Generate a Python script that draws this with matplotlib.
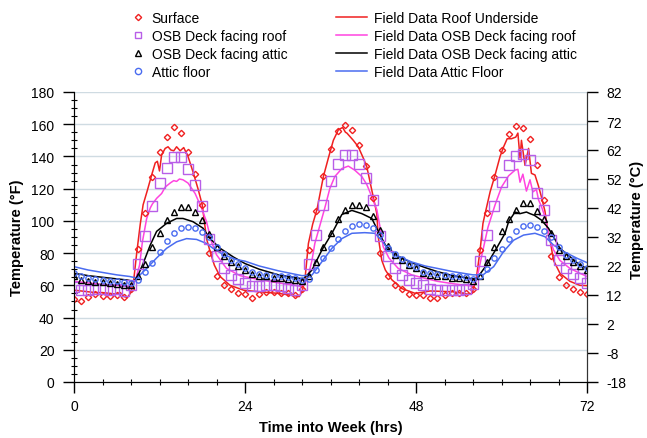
import numpy as np
import matplotlib
matplotlib.use("Agg")
import matplotlib.pyplot as plt
from matplotlib.lines import Line2D
from matplotlib.ticker import MultipleLocator

plt.rcParams['font.family'] = ['Liberation Sans', 'DejaVu Sans']
plt.rcParams['axes.unicode_minus'] = False

# hourly simulation points (deg F)
hours = list(range(0, 73))
surface = [51.5, 50.5, 52.5, 54.5, 53.5, 53.5, 54, 53, 58, 82.5, 105, 127.5, 142.5, 152, 158.5, 154.5,
           143, 129, 110, 80, 65.5, 60.5, 57.5, 55.5,
           54.4, 52, 54.5, 56, 56, 55.5, 55, 54, 58, 82, 106, 128, 144.5, 156, 159.5, 156.5,
           147, 134, 114.5, 80, 66, 60, 57.5, 54.5,
           54, 54, 52, 52, 54, 55, 55, 55, 58, 82, 105, 127.5, 144, 154, 159, 157.5,
           151, 135, 113, 78, 65, 60, 58, 56, 54.5]
osb_roof = [59, 57, 57, 58, 57.5, 57, 57.5, 56.5, 60, 73, 90.5, 109, 123.5, 133, 139.5, 139.5,
            132, 122.5, 109, 89, 78, 70.5, 66.5, 64,
            61.5, 59.5, 59.5, 60, 60, 59.5, 58.5, 57, 60, 73, 91.5, 110, 124.5, 135.5, 141, 141,
            135.5, 126.5, 113, 90.5, 78, 70.5, 66.5, 63.5,
            61.5, 60, 58, 57, 57, 57, 57, 57.5, 61, 75, 91, 109, 124, 134.5, 140.5, 141.5,
            138, 117.5, 107, 88, 76, 71, 67, 64.5, 61.5]
osb_attic = [66, 63.5, 62.5, 62.3, 62, 61.5, 61, 60.5, 60.5, 65.5, 73.5, 83.5, 92.5, 100.5, 105.5, 108.5,
             108.5, 105.5, 100.5, 92, 84, 78, 74.5, 72,
             69.5, 67, 66, 65.5, 64.7, 64.3, 63.7, 63.3, 62.5, 65.5, 74.5, 84, 92.5, 101, 106.5, 110,
             110, 108.5, 103, 94.5, 84.5, 79, 75.5, 72.5,
             70.5, 67.5, 66.5, 66, 65.5, 64.7, 64.3, 63.7, 62.5, 66, 74.5, 84, 93.5, 101, 107, 111,
             111, 106, 101, 92.5, 82, 78, 74.7, 72, 69.5]
attic_floor = [67.5, 65.5, 64.5, 64, 63.5, 63, 62.5, 62, 61.5, 63.5, 68.5, 74, 81, 87.5, 92.5, 95.5,
               96, 95.5, 93, 90, 84, 79.5, 76, 73.5,
               71, 68, 67, 66.5, 66, 65.5, 65, 64.5, 63.5, 64, 69.5, 77, 83, 88.5, 93.5, 97,
               98, 97.5, 95.5, 91, 83, 79.5, 76.5, 73.5,
               71.5, 68.5, 67.5, 67, 66.5, 66, 65.5, 65, 64, 66, 70, 77, 82.5, 88.5, 94, 97,
               97.5, 96.5, 94, 90, 83.5, 79, 76, 73, 70.5]

# field data (time in hrs, deg F)
fr_t = [0, 1, 2, 3, 4, 5, 6, 6.5, 7, 7.5, 7.9, 8.3, 8.8, 9.3, 9.7, 10.3, 10.9, 11.4, 11.7, 12.0, 12.3,
        12.8, 13.2, 13.6, 14.0, 14.4, 14.9, 15.4, 16, 16.7, 17.4, 18, 18.6, 19.1, 19.7, 20.5, 21.9, 23.8,
        26, 28.7, 31, 31.6, 32, 32.4, 32.9, 33.5, 34.1, 35, 35.7, 36.4, 37.1, 37.7, 38.1, 38.3, 38.7,
        39.2, 39.9, 40.6, 41.1, 41.8, 42.5, 42.7, 43.2, 43.7, 44.6, 46, 47.9,
        50, 53.2, 55.3, 55.9, 56.5, 57, 57.4, 57.7, 58.4, 59.1, 59.8, 60.3, 60.8, 61.4, 62.0, 62.3,
        62.6, 62.8, 63.3, 63.8, 64.2, 64.7, 65.2, 65.6, 66.1, 66.5, 66.9, 67.3, 68.2, 69.6, 71, 72]
fr_v = [57, 56.5, 56, 55.5, 55.5, 55, 54.5, 55.5, 53, 52.5, 55, 60, 80, 98, 110, 119, 128.5, 136, 137, 131, 141,
        145, 146, 144, 143.5, 146, 143.5, 145.5, 140, 130.5, 120, 110, 89, 81, 72.5, 65.5, 60, 57,
        56, 55, 53.5, 53, 56, 63, 86, 98, 107, 127.5, 139, 150, 156.5, 158, 155, 154.5, 152.5,
        150, 146, 139, 133.5, 119, 104.5, 90, 75.5, 69.5, 63.5, 58, 55,
        56.5, 56, 54.5, 55, 65.5, 82, 98.5, 104.5, 118, 128.5, 140, 146, 151, 151, 152, 154.5,
        139, 150, 134.5, 145, 129.5, 128.5, 121.5, 115, 106, 93.5, 86, 75.5, 67.5, 62.5, 60, 59.8]

fm_t = [0, 2, 4, 6, 7.6, 8.2, 8.6, 9.2, 9.6, 10.2, 10.7, 11.0, 11.6, 12.3, 12.8, 13.5, 14.0, 14.4, 14.8,
        15.3, 16, 17, 17.9, 18.6, 19.3, 20, 21.4, 23.3,
        26, 28.7, 31.7, 32.2, 32.5, 32.9, 33.4, 33.8, 34.5, 35.2, 35.9, 36.6, 37.6, 38.5, 39.4, 40.4,
        41.1, 41.8, 42.5, 43, 43.4, 44.2, 45.5, 47.4, 49.3,
        51, 53.2, 56, 56.5, 57.2, 57.7, 58.1, 59.1, 60, 61, 61.9, 62.3, 62.6, 63, 63.5, 64, 64.4, 64.9,
        65.2, 65.6, 66.1, 66.8, 67.3, 68.2, 69.6, 71, 72]
fm_v = [62.5, 61.5, 60.5, 60, 59.5, 60.5, 63, 72.5, 87, 101.5, 108, 110.5, 114, 117, 121, 123.5, 125, 124.5, 126,
        125.5, 123.5, 117, 108, 99.5, 87, 79, 70.5, 66,
        63.5, 61.5, 59.5, 60, 62, 66.5, 75.5, 86, 97, 108, 120, 127.5, 132.5, 134, 131.5, 127.5,
        122.5, 115, 107, 95, 84, 77, 70.5, 66.5, 64.3,
        62.5, 61, 59.5, 63.3, 77.8, 88, 96, 110, 121, 128, 131.5, 132, 124, 129, 118.5, 125.5, 118, 119.5,
        113, 109, 102.5, 88, 82, 75.5, 70.5, 67.5, 65.5]

fk_t = [0, 2, 4, 6, 7.5, 8.3, 8.8, 9.7, 10.7, 11.6, 13, 14.4, 15.3, 16.7, 18.1, 19.1, 20.5, 22.4, 24,
        26, 28.7, 31, 32.2, 33.4, 34.8, 36.2, 37.6, 39, 40.4, 41.8, 42.7, 43.7, 45.1, 47.4, 49.3,
        51, 53.2, 56, 56.5, 57.9, 59.3, 60.5, 61, 61.9, 62.6, 63.5, 64, 64.6, 65.6, 66.6, 67.3, 68.2,
        69.6, 71, 72]
fk_v = [67.5, 66, 65, 64, 63.3, 62.5, 64.3, 73.5, 85, 93.5, 98.5, 101.5, 101.5, 99.5, 95.5, 89, 83, 77.5, 73.5,
        70, 66.5, 64.8, 64, 69.5, 82, 92.3, 104, 106.5, 104.5, 101.5, 93.5, 85, 79, 74, 71,
        68.5, 66, 64, 64, 72.6, 83, 92.3, 99.6, 105.5, 104.5, 105.5, 104.5, 103.5, 100.5, 95.4, 90.2, 83,
        77.8, 72.6, 70.5]

fb_t = [0, 2, 4, 6, 7.8, 8.8, 10.2, 11.6, 13, 14.4, 15.8, 17.2, 18.6, 19.5, 21, 22.8, 24,
        26, 28.7, 32, 33.4, 34.8, 36.2, 37.6, 39, 40.8, 42.2, 43.2, 44.1, 45.5, 47.4, 49.3,
        51, 53.2, 56, 57.4, 58.9, 60.3, 61.7, 63.1, 64.7, 66.1, 67.3, 68.7, 70.6, 72]
fb_v = [71.6, 69.5, 68, 66.5, 65.5, 64.5, 70.5, 77, 83, 87, 89, 88.5, 86, 83, 79, 76, 75,
        72, 69, 66, 66.4, 74.7, 83, 89, 92.3, 92.7, 92.3, 88, 82, 78, 74.5, 72,
        70.5, 68.5, 66.5, 66.5, 71.6, 81, 88, 91.2, 92.3, 90.2, 85, 81, 76.8, 74.1]

red = '#f02020'
magenta = '#ff44e0'
violet = '#b85ee8'
blue = '#4a6cf0'

fig = plt.figure(figsize=(6.47, 4.39), dpi=100)
ax = fig.add_axes([74 / 647, 56 / 439, 513 / 647, 290 / 439])

ax.grid(axis='y', color='#cfdbe2', linewidth=1.0, zorder=0)
ax.set_axisbelow(True)

ax.plot(fr_t, fr_v, color=red, lw=1.1, zorder=3)
ax.plot(fm_t, fm_v, color=magenta, lw=1.1, zorder=3)
ax.plot(fk_t, fk_v, color='black', lw=1.1, zorder=3)
ax.plot(fb_t, fb_v, color=blue, lw=1.1, zorder=3)

ax.plot(hours, surface, 'D', ms=3.2, mfc='none', mec=red, mew=1.0, zorder=4)
ax.plot(hours, osb_roof, 's', ms=6.5, mfc='none', mec=violet, mew=1.0, zorder=4)
ax.plot(hours, osb_attic, '^', ms=4.5, mfc='none', mec='black', mew=1.0, zorder=4)
ax.plot(hours, attic_floor, 'o', ms=3.8, mfc='none', mec=blue, mew=1.0, zorder=4)

ax.set_xlim(0, 72)
ax.set_ylim(0, 180)
ax.set_xticks([0, 24, 48, 72])
ax.xaxis.set_minor_locator(MultipleLocator(4))
ax.set_yticks(range(0, 181, 20))
ax.yaxis.set_minor_locator(MultipleLocator(5))
ax.tick_params(axis='both', which='major', direction='out', length=8, width=1, labelsize=10)
ax.tick_params(axis='y', which='major', pad=6)
ax.tick_params(axis='both', which='minor', direction='inout', length=5, width=0.8)
ax.tick_params(axis='x', which='major', pad=4)
ax.spines['top'].set_visible(False)
for s in ['left', 'bottom', 'right']:
    ax.spines[s].set_color('#333333')
ax.set_xlabel('Time into Week (hrs)', fontsize=10.5, fontweight='bold', labelpad=5)
ax.set_ylabel('Temperature (\u00b0F)', fontsize=10.5, fontweight='bold', labelpad=5)

ax2 = ax.twinx()
ax2.set_ylim(-18, 82)
ax2.set_yticks(range(-18, 83, 10))
ax2.tick_params(axis='y', direction='out', length=8, width=1, labelsize=10, pad=6)
ax2.spines['top'].set_visible(False)
ax2.spines['right'].set_color('#333333')
fig.text(0.984, 0.5, 'Temperature (\u00b0C)', rotation=90, fontsize=10.5, fontweight='bold',
         ha='center', va='center')

h1 = [Line2D([], [], ls='none', marker='D', ms=3.2, mfc='none', mec=red, mew=1.0),
      Line2D([], [], ls='none', marker='s', ms=4.5, mfc='none', mec=violet, mew=1.0),
      Line2D([], [], ls='none', marker='^', ms=4.5, mfc='none', mec='black', mew=1.0),
      Line2D([], [], ls='none', marker='o', ms=4.5, mfc='none', mec=blue, mew=1.0)]
l1 = ['Surface', 'OSB Deck facing roof', 'OSB Deck facing attic', 'Attic floor']
h2 = [Line2D([], [], color=red, lw=1.1), Line2D([], [], color=magenta, lw=1.1),
      Line2D([], [], color='black', lw=1.1), Line2D([], [], color=blue, lw=1.1)]
l2 = ['Field Data Roof Underside', 'Field Data OSB Deck facing roof',
      'Field Data OSB Deck facing attic', 'Field Data Attic Floor']

leg1 = fig.legend(h1, l1, loc='upper left', bbox_to_anchor=(124 / 647, 1 - 6 / 439), frameon=False,
                  fontsize=10, handlelength=1.2, handletextpad=0.4, labelspacing=0.3, borderaxespad=0)
leg2 = fig.legend(h2, l2, loc='upper left', bbox_to_anchor=(330 / 647, 1 - 6 / 439), frameon=False,
                  fontsize=10, handlelength=2.3, handletextpad=0.5, labelspacing=0.3, borderaxespad=0)

fig.savefig('out.png', dpi=100)
